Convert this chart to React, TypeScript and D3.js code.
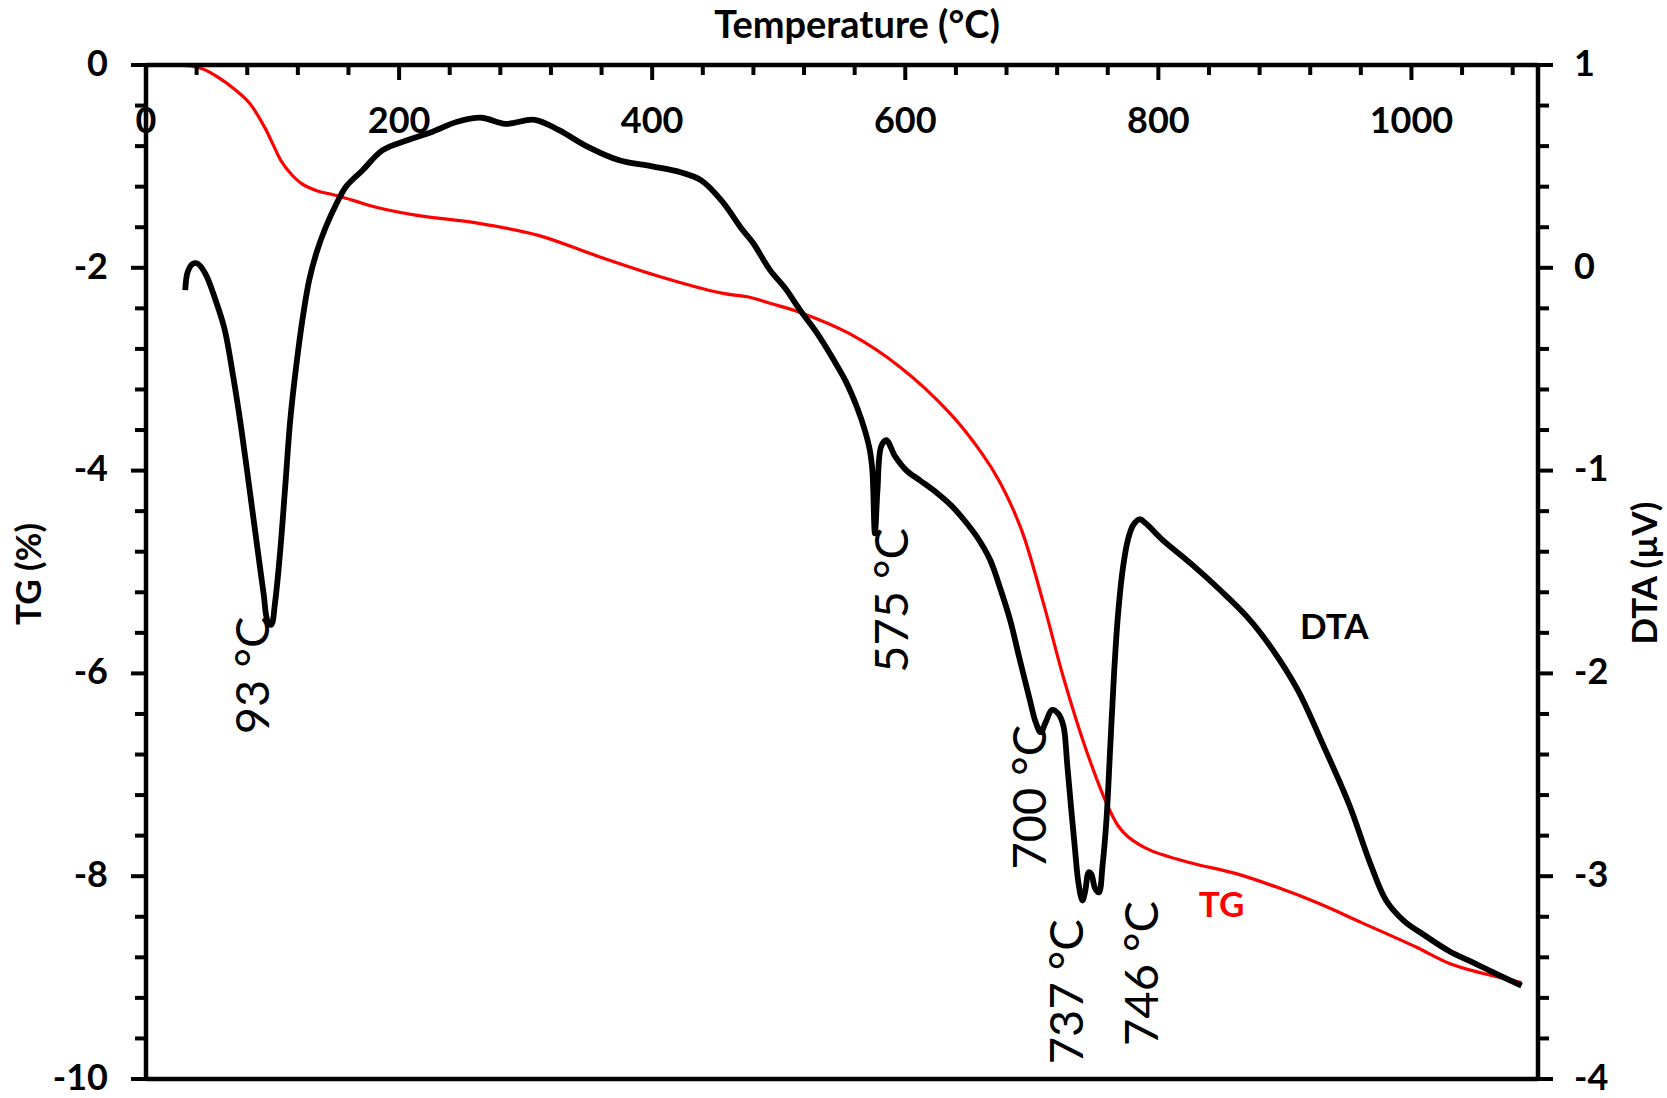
import { useEffect, useRef } from 'react'
import * as d3 from 'd3'

const W = 1667
const H = 1098
const FONT = "Lato, 'Open Sans', sans-serif"

// ── DTA curve (black, right axis, µV) ───────────────────────────────────────
const DTA_TEMP = [
  31, 33, 37, 41, 47, 55, 62, 69, 75, 82, 88, 93, 96, 99, 102, 106, 110, 114, 119, 124,
  129, 135, 142, 150, 158, 171, 187, 207, 226, 246, 265, 284, 307, 326, 348, 374, 400, 423, 439, 455,
  471, 480, 493, 505, 517, 530, 543, 553, 562, 568, 572, 574, 576, 578, 581, 585, 592, 601, 612, 625,
  636, 646, 657, 667, 675, 683, 690, 698, 703, 707, 711, 716, 721, 725, 728, 731, 734, 737, 740, 742,
  745, 747, 750, 753, 756, 759, 762, 765, 768, 772, 776, 780, 785, 790, 803, 826, 849, 870, 890, 910,
  930, 951, 967, 980, 994, 1010, 1030, 1050, 1070, 1087,
]
const DTA_VALUE = [
  -0.11, -0.02, 0.02, 0.02, -0.03, -0.16, -0.3, -0.54, -0.78, -1.1, -1.38, -1.61, -1.74, -1.76, -1.65, -1.4, -1.08, -0.75, -0.47, -0.24,
  -0.06, 0.08, 0.2, 0.31, 0.4, 0.48, 0.58, 0.63, 0.67, 0.72, 0.74, 0.71, 0.73, 0.68, 0.6, 0.53, 0.5, 0.47, 0.43, 0.33,
  0.19, 0.12, -0.01, -0.1, -0.21, -0.32, -0.45, -0.56, -0.69, -0.8, -0.9, -1.0, -1.31, -1.1, -0.88, -0.85, -0.93, -1.0, -1.05, -1.11,
  -1.17, -1.24, -1.33, -1.44, -1.58, -1.74, -1.92, -2.12, -2.24, -2.29, -2.24, -2.18, -2.2, -2.26, -2.45, -2.66, -2.86, -3.04, -3.12, -3.08,
  -2.98, -2.99, -3.06, -3.08, -2.94, -2.72, -2.36, -2.0, -1.72, -1.48, -1.34, -1.27, -1.24, -1.26, -1.34, -1.46, -1.59, -1.72, -1.88, -2.08,
  -2.35, -2.65, -2.93, -3.12, -3.22, -3.29, -3.37, -3.43, -3.49, -3.54,
]

// ── TG curve (red, left axis, %) ────────────────────────────────────────────
const TG_TEMP = [
  23, 35, 45, 58, 70, 82, 94, 101, 107, 115, 123, 135, 148, 165, 181, 213, 262, 310, 358, 407,
  455, 477, 493, 517, 556, 596, 635, 660, 675, 692, 709, 725, 742, 759, 768, 776, 793, 826, 860, 894,
  927, 961, 1004, 1030, 1057, 1087,
]
const TG_VALUE = [
  0, -0.01, -0.04, -0.13, -0.24, -0.38, -0.62, -0.8, -0.95, -1.08, -1.17, -1.24, -1.28, -1.34, -1.4, -1.48, -1.56, -1.68, -1.89, -2.09,
  -2.25, -2.29, -2.35, -2.44, -2.65, -2.98, -3.43, -3.82, -4.12, -4.59, -5.3, -6.04, -6.72, -7.28, -7.5, -7.61, -7.74, -7.87, -7.97, -8.11,
  -8.27, -8.46, -8.7, -8.86, -8.96, -9.05,
]

// ── Axis ticks ──────────────────────────────────────────────────────────────
const X_MAJOR = [0, 200, 400, 600, 800, 1000]
const TG_MAJOR = [0, -2, -4, -6, -8, -10]
const DTA_MAJOR = [1, 0, -1, -2, -3, -4]

// ── Peak annotations (rotated), anchored in temperature / DTA units ─────────
const PEAK_LABELS = ['93 °C', '575 °C', '700 °C', '737 °C', '746 °C']
const PEAK_TEMP = [84, 589, 698, 727, 786]
const PEAK_DTA = [-2.01, -1.64, -2.61, -3.57, -3.48]

export default function App() {
  const svgRef = useRef<SVGSVGElement>(null)

  useEffect(() => {
    const svg = d3.select(svgRef.current)
    svg.selectAll('*').remove()

    const left = 146, right = 1538, top = 65, bottom = 1079
    const x = d3.scaleLinear().domain([0, 1100]).range([left, right])
    const yTG = d3.scaleLinear().domain([-10, 0]).range([bottom, top])
    const yDTA = d3.scaleLinear().domain([-4, 1]).range([bottom, top])

    const g = svg.append('g')
    g.append('rect').attr('width', W).attr('height', H).attr('fill', '#fff')

    // Curves first so the axes sit on top
    const dtaPts = DTA_TEMP.map((t, i) => [x(t), yDTA(DTA_VALUE[i])] as [number, number])
    const tgPts = TG_TEMP.map((t, i) => [x(t), yTG(TG_VALUE[i])] as [number, number])
    const line = d3.line().curve(d3.curveCatmullRom.alpha(0.5))

    g.append('path').attr('d', line(tgPts)).attr('fill', 'none')
      .attr('stroke', '#f00').attr('stroke-width', 3.2).attr('stroke-linejoin', 'round')
    g.append('path').attr('d', line(dtaPts)).attr('fill', 'none')
      .attr('stroke', '#000').attr('stroke-width', 5.8).attr('stroke-linejoin', 'round')

    // Frame: left, right, top, bottom lines
    const ax = g.append('g').attr('stroke', '#000').attr('stroke-width', 4.5)
    ax.append('line').attr('x1', left).attr('x2', left).attr('y1', top).attr('y2', bottom)
    ax.append('line').attr('x1', right).attr('x2', right).attr('y1', top).attr('y2', bottom)
    ax.append('line').attr('x1', left).attr('x2', right).attr('y1', top).attr('y2', top)
    ax.append('line').attr('x1', left).attr('x2', right).attr('y1', bottom).attr('y2', bottom)

    // Top temperature ticks (inward) — minor every 40, major every 200
    const tk = g.append('g').attr('stroke', '#000').attr('stroke-width', 4)
    d3.range(40, 1100, 40).forEach((t) => {
      const len = t % 200 === 0 ? 15 : 10
      tk.append('line').attr('x1', x(t)).attr('x2', x(t)).attr('y1', top).attr('y2', top + len)
    })
    // Left TG ticks (outward) — minor every 0.4
    d3.range(0, 26).forEach((k) => {
      const v = -k * 0.4
      const len = k % 5 === 0 ? 15 : 11
      tk.append('line').attr('x1', left - len).attr('x2', left).attr('y1', yTG(v)).attr('y2', yTG(v))
    })
    // Right DTA ticks (outward) — minor every 0.2
    d3.range(0, 26).forEach((k) => {
      const v = 1 - k * 0.2
      const len = k % 5 === 0 ? 15 : 11
      tk.append('line').attr('x1', right).attr('x2', right + len).attr('y1', yDTA(v)).attr('y2', yDTA(v))
    })

    const txt = g.append('g').attr('font-family', FONT).attr('fill', '#000')

    txt.selectAll('text.xt').data(X_MAJOR).join('text')
      .attr('x', (d) => x(d)).attr('y', 133)
      .attr('text-anchor', 'middle').attr('font-size', 36).attr('font-weight', 700)
      .text((d) => d)

    txt.selectAll('text.tg').data(TG_MAJOR).join('text')
      .attr('x', 108).attr('y', (d) => yTG(d)).attr('dy', '0.3em')
      .attr('text-anchor', 'end').attr('font-size', 36).attr('font-weight', 700)
      .text((d) => d)

    txt.selectAll('text.dta').data(DTA_MAJOR).join('text')
      .attr('x', 1574).attr('y', (d) => yDTA(d)).attr('dy', '0.3em')
      .attr('text-anchor', 'start').attr('font-size', 36).attr('font-weight', 700)
      .text((d) => d)

    // Axis titles
    txt.append('text').attr('x', 857).attr('y', 38).attr('text-anchor', 'middle')
      .attr('font-size', 38).attr('font-weight', 700).text('Temperature (°C)')
    txt.append('text').attr('transform', 'translate(28,574) rotate(-90)').attr('dy', '0.36em')
      .attr('text-anchor', 'middle').attr('font-size', 35).attr('font-weight', 700).text('TG (%)')
    txt.append('text').attr('transform', 'translate(1644,573) rotate(-90)').attr('dy', '0.36em')
      .attr('text-anchor', 'middle').attr('font-size', 35).attr('font-weight', 700).text('DTA (µV)')

    // Series labels
    txt.append('text').attr('x', x(939)).attr('y', yDTA(-1.77)).attr('dy', '0.36em')
      .attr('text-anchor', 'middle').attr('font-size', 35).attr('font-weight', 700).text('DTA')
    txt.append('text').attr('x', x(850)).attr('y', yTG(-8.28)).attr('dy', '0.36em')
      .attr('text-anchor', 'middle').attr('font-size', 35).attr('font-weight', 700)
      .attr('fill', '#f00').text('TG')

    // Rotated peak temperatures
    PEAK_LABELS.forEach((lab, i) => {
      txt.append('text')
        .attr('transform', `translate(${x(PEAK_TEMP[i])},${yDTA(PEAK_DTA[i])}) rotate(-90)`)
        .attr('dy', '0.36em').attr('text-anchor', 'middle')
        .attr('font-size', 47).attr('font-weight', 400).text(lab)
    })
  }, [])

  return (
    <div>
      <style>{'body{margin:0;background:#fff}'}</style>
      <svg ref={svgRef} width={W} height={H} style={{ display: 'block' }} />
    </div>
  )
}
